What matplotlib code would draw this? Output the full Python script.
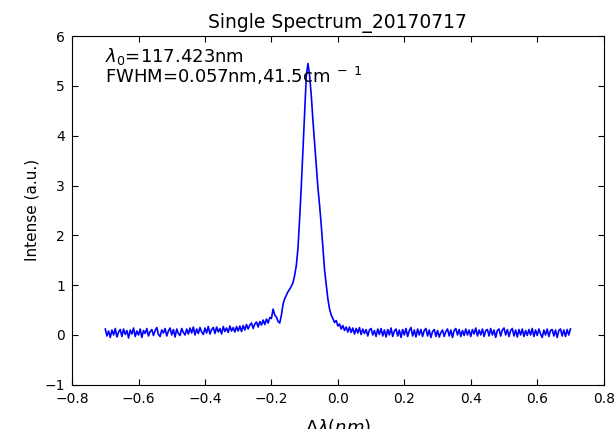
import numpy as np
import matplotlib
matplotlib.use('Agg')
import matplotlib.pyplot as plt

dl_start = -0.70
dl_step = 0.005

# baseline, -0.700 .. -0.455
base_left = [0.12, -0.02, 0.08, -0.05, 0.10, 0.00, 0.13, -0.04, 0.06, 0.11,
             -0.03, 0.12, 0.01, 0.09, -0.06, 0.10, 0.02, 0.14, -0.03, 0.08,
             0.00, 0.12, -0.05, 0.09, 0.03, 0.13, -0.02, 0.07, 0.11, -0.01,
             0.09, 0.15, 0.01, -0.03, 0.10, 0.04, 0.13, -0.02, 0.08, 0.14,
             0.00, 0.11, -0.04, 0.12, 0.03, -0.01, 0.13, 0.05, 0.00, 0.12]
# -0.450 .. -0.305
base_mid = [0.02, 0.14, 0.04, 0.16, 0.00, 0.12, 0.03, 0.15, 0.06, 0.01,
            0.14, 0.04, 0.17, 0.02, 0.11, 0.15, 0.03, 0.16, 0.06, 0.13,
            0.02, 0.17, 0.07, 0.14, 0.05, 0.18, 0.08, 0.15, 0.06, 0.17]
# -0.300 .. -0.200, rising wing
wing_left = [0.08, 0.18, 0.07, 0.19, 0.10, 0.21, 0.12, 0.20, 0.24, 0.13,
             0.22, 0.26, 0.16, 0.27, 0.20, 0.30, 0.21, 0.32, 0.24, 0.35, 0.33]
# -0.195 .. 0.030, the line itself
peak = [0.52, 0.40, 0.36, 0.27, 0.24, 0.40, 0.62, 0.73, 0.80, 0.87,
        0.92, 0.98, 1.05, 1.20, 1.40, 1.75, 2.35, 3.00, 3.75, 4.50,
        5.20, 5.45, 5.20, 4.80, 4.30, 3.85, 3.40, 2.95, 2.60, 2.20,
        1.75, 1.30, 1.00, 0.72, 0.52, 0.40, 0.33, 0.25, 0.29, 0.18,
        0.22, 0.12, 0.19, 0.09, 0.16, 0.06]
# 0.035 .. 0.700
base_right = [0.16, 0.05, 0.14, 0.02, 0.13, 0.04, 0.15, 0.01, 0.12, 0.03,
              0.11, -0.02, 0.10, 0.13, 0.00, 0.09, -0.03, 0.12, 0.01, 0.13,
              -0.02, 0.10, -0.04, 0.11, 0.00, 0.14, -0.03, 0.08, 0.12, -0.02,
              0.10, -0.05, 0.11, 0.00, 0.13, -0.03, 0.09, 0.15, -0.02, 0.10,
              -0.04, 0.12, 0.00, 0.11, -0.03, 0.09, 0.13, -0.02, 0.10, -0.05,
              0.07, 0.11, -0.03, 0.09, -0.04, 0.05, 0.10, -0.03, 0.07, 0.12,
              -0.02, 0.10, -0.05, 0.09, 0.13, 0.00, 0.11, -0.03, 0.09, -0.01,
              0.12, 0.00, 0.10, -0.03, 0.11, 0.02, 0.14, -0.02, 0.10, 0.00,
              0.12, -0.03, 0.09, 0.11, -0.02, 0.13, 0.00, 0.10, -0.05, 0.09,
              0.12, -0.02, 0.10, 0.14, 0.00, 0.11, -0.03, 0.09, 0.13, -0.02,
              0.10, -0.04, 0.11, 0.00, 0.12, -0.03, 0.09, -0.01, 0.11, 0.00,
              0.13, -0.03, 0.10, -0.01, 0.12, 0.02, -0.05, 0.10, 0.00, 0.12,
              -0.03, 0.09, 0.11, -0.02, 0.10, -0.05, 0.09, 0.12, -0.02, 0.10,
              -0.03, 0.11, 0.00, 0.12]

intensity = np.array(base_left + base_mid + wing_left + peak + base_right)
dl = dl_start + dl_step*np.arange(len(intensity))

lam0 = 117.423
fwhm_nm = 0.057
fwhm_cm = 41.5

fig = plt.figure(figsize=(6.16, 4.29), dpi=100)
ax = fig.add_axes([0.117, 0.103, 0.863, 0.813])

ax.plot(dl, intensity, color='b', lw=1.2)
ax.set_xlim(-0.8, 0.8)
ax.set_ylim(-1, 6)
ax.set_xticks(np.arange(-0.8, 0.81, 0.2))
ax.set_yticks(np.arange(-1, 7, 1))
ax.tick_params(direction='in', top=True, right=True, length=4, labelsize=10, pad=5)

# old mathtext put a wide gap inside the superscript
ax.text(-0.70, 5.80, r'$\lambda_0$=%.3fnm' % lam0 + '\n' + r'FWHM=%.3fnm,%.1fcm$^{\ -\ 1}$' % (fwhm_nm, fwhm_cm),
        fontsize=13, va='top', ha='left', linespacing=0.9)

ax.set_title('Single Spectrum_20170717', fontsize=13.5)
ax.set_ylabel('Intense (a.u.)', fontsize=11)
ax.set_xlabel(r'$\Delta\lambda(nm)$', fontsize=13, labelpad=8)

fig.savefig('out.png', dpi=100)
